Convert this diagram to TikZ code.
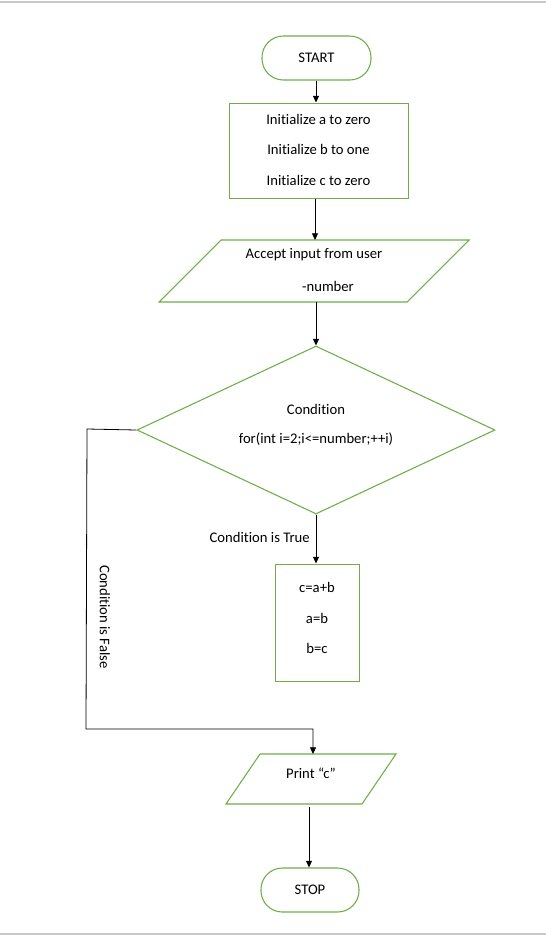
\documentclass[tikz,border=0pt]{standalone}
\usepackage{fontspec}
\setmainfont{Carlito}[Ligatures=NoCommon]
\usetikzlibrary{shapes.geometric,arrows.meta}
\definecolor{grn}{HTML}{70AD47}
\definecolor{pagegray}{HTML}{C8C8C8}
\begin{document}
\begin{tikzpicture}[x=0.75pt,y=-0.75pt,
  every node/.style={font=\fontsize{11}{13}\selectfont, inner sep=0pt},
  term/.style={draw=grn, line width=0.8pt, rounded corners=16pt, fill=white},
  procbox/.style={draw=grn, line width=0.75pt, fill=white},
  ioshape/.style={draw=grn, line width=0.8pt, fill=white},
  decis/.style={draw=grn, line width=0.8pt, diamond, fill=white},
  conn/.style={line width=0.6pt, -{Triangle[length=5pt,width=4.5pt]}},
  plain/.style={line width=0.6pt}]
\useasboundingbox (0,0) rectangle (546,936);
% page rules
\draw[pagegray, line width=1.2pt] (0,2) -- (546,2);
\draw[pagegray, line width=1.2pt] (0,934) -- (546,934);

% START
\node[term, minimum width={109*0.75pt}, minimum height={44*0.75pt}] (start) at (316.5,58) {START};

% init box
\node[procbox, minimum width={179*0.75pt}, minimum height={95*0.75pt}] (init) at (318.5,150.5) {};
\node (i1) at (318.5,119) {Initialize a to zero};
\node (i2) at (318.5,149) {Initialize b to one};
\node (i3) at (318.5,180) {Initialize c to zero};

% input parallelogram
\draw[ioshape] (221,240) -- (469,240) -- (407,302) -- (159,302) -- cycle;
\coordinate (inTop) at (315,240);
\coordinate (inBot) at (316,302);
\node (in1) at (314,255) {Accept input from user};
\node (in2) at (328,286) {-number};

% decision
\node[decis, minimum width={358*0.75pt}, minimum height={168*0.75pt}] (cond) at (316,430) {};
\node (c1) at (316,409) {Condition};
\node (c2) at (316,439) {for(int i=2;i<=number;++i)};

% loop body
\node[procbox, minimum width={84*0.75pt}, minimum height={117*0.75pt}] (body) at (317,622.5) {};
\node (b1) at (317,587) {c=a+b};
\node (b2) at (317,618) {a=b};
\node (b3) at (317,648) {b=c};

% print parallelogram
\draw[ioshape] (260,754) -- (396,754) -- (362,804) -- (226,804) -- cycle;
\coordinate (prTop) at (313,754);
\coordinate (prBot) at (309,807);
\node (pr) at (311,773) {Print “c”};

% STOP
\node[term, minimum width={98*0.75pt}, minimum height={44*0.75pt}] (stop) at (310,890) {STOP};

% connectors
\draw[conn] (start.south -| 316,0) -- (316,0 |- init.north);
\draw[conn] (inTop |- init.south) -- (inTop);
\draw[conn] (inBot) -- (cond.north);
\draw[conn] (cond.south) -- (cond.south |- body.north);
\node[anchor=east] (tl) at (310,537) {Condition is True};
\coordinate (f1) at (87,429);
\coordinate (f2) at (86,729);
\coordinate (f3) at (313,729);
\draw[conn] (cond.west) -- (f1) -- (f2) -- (f3) -- (prTop);
\node[rotate=-90] (fl) at (105,617) {Condition is False};
\draw[conn] (prBot) -- (prBot |- stop.north);
\end{tikzpicture}
\end{document}
